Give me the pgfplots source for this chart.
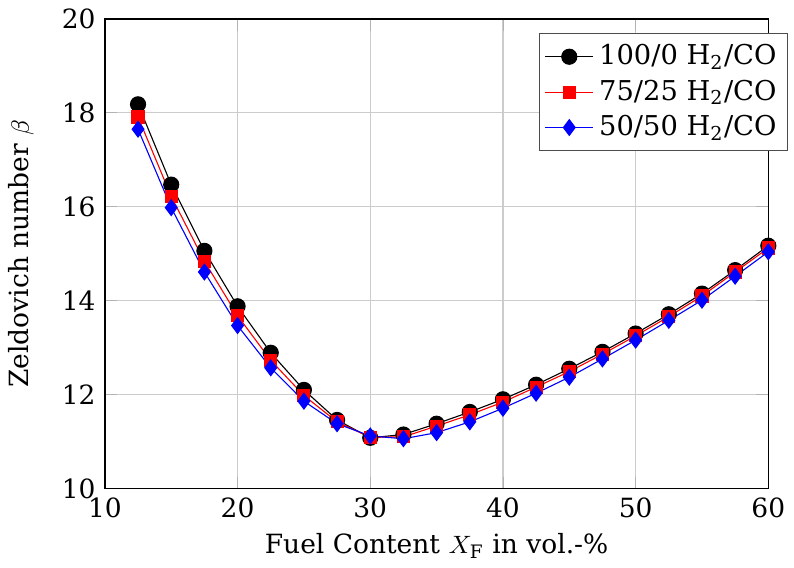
\documentclass[border=0pt]{standalone}
\usepackage{fontspec}
\setmainfont{DejaVu Serif}
\usepackage{pgfplots}
\pgfplotsset{compat=1.18}
\begin{document}
\fontsize{9.5}{11}\selectfont
\begin{tikzpicture}
\begin{axis}[
  scale only axis,
  width=238pt, height=168.5pt,
  xmin=10, xmax=60, ymin=10, ymax=20,
  xtick={10,20,30,40,50,60},
  ytick={10,12,14,16,18,20},
  grid=major,
  major grid style={gray!40, line width=0.5pt},
  tick style={gray!60},
  axis line style={black, line width=0.5pt},
  /pgf/number format/assume math mode=true,
  ticklabel style={font=\fontsize{9.5}{11}\selectfont},
  label style={font=\fontsize{9.5}{11}\selectfont},
  xlabel={Fuel Content $X_\mathrm{F}$ in vol.-\%},
  ylabel={Zeldovich number $\beta$},
  ylabel shift=3.5pt,
  xlabel shift=-1pt,
  legend cell align=left,
  legend style={at={(rel axis cs:1.03,0.97)}, anchor=north east, font=\fontsize{9.8}{11.5}\selectfont, draw=black!70, inner sep=2pt, row sep=0pt},
]
\addplot[black, line width=0.4pt, mark=*, mark size=2.7pt] coordinates {
(12.5,18.18) (15,16.47) (17.5,15.06) (20,13.88) (22.5,12.89) (25,12.10) (27.5,11.46) (30,11.08) (32.5,11.15) (35,11.38) (37.5,11.63) (40,11.90) (42.5,12.21) (45,12.55) (47.5,12.91) (50,13.30) (52.5,13.71) (55,14.15) (57.5,14.65) (60,15.17)
};
\addlegendentry{100/0 H\textsubscript{2}/CO}
\addplot[red, line width=0.4pt, mark=square*, mark size=2.15pt] coordinates {
(12.5,17.91) (15,16.22) (17.5,14.84) (20,13.68) (22.5,12.73) (25,11.98) (27.5,11.42) (30,11.09) (32.5,11.10) (35,11.33) (37.5,11.57) (40,11.84) (42.5,12.16) (45,12.49) (47.5,12.86) (50,13.25) (52.5,13.66) (55,14.10) (57.5,14.61) (60,15.12)
};
\addlegendentry{75/25 H\textsubscript{2}/CO}
\addplot[blue, line width=0.4pt, mark=diamond*, mark size=2.8pt] coordinates {
(12.5,17.65) (15,15.98) (17.5,14.61) (20,13.47) (22.5,12.57) (25,11.86) (27.5,11.38) (30,11.12) (32.5,11.06) (35,11.19) (37.5,11.42) (40,11.71) (42.5,12.03) (45,12.37) (47.5,12.76) (50,13.16) (52.5,13.58) (55,14.01) (57.5,14.52) (60,15.04)
};
\addlegendentry{50/50 H\textsubscript{2}/CO}
\end{axis}
\end{tikzpicture}
\end{document}
